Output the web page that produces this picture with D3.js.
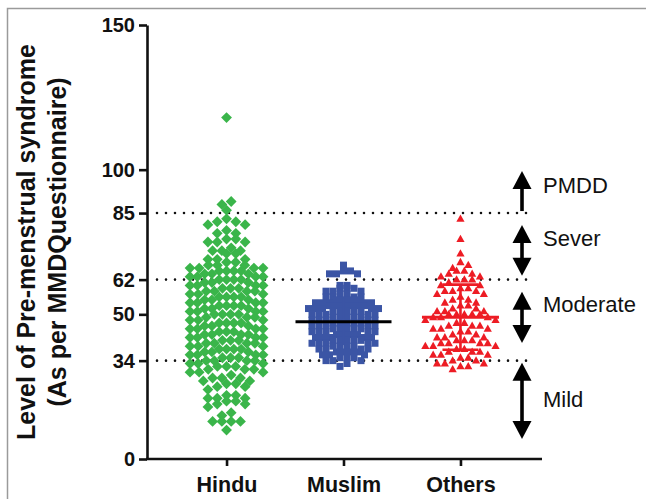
<!DOCTYPE html>
<html>
<head>
<meta charset="utf-8">
<script src="https://cdn.jsdelivr.net/npm/d3@7"></script>
<style>
  html, body { margin: 0; padding: 0; background: #fff; }
  svg { display: block; font-family: "Liberation Sans", Arial, Helvetica, sans-serif; }
</style>
</head>
<body>
<svg id="chart" width="646" height="499"></svg>
<script>
// ---- data -------------------------------------------------------------
const groups = ["Hindu", "Muslim", "Others"];

// MMDQ scores per respondent, by religion
const hinduScores = [
  118,
  89, 88,
  86,
  83, 82, 82, 81, 81,
  79, 78, 78,
  76, 76, 75, 75, 75,
  73, 72, 72, 72,
  71, 71, 69, 69, 69,
  68, 68, 67, 67, 67, 66, 66, 66, 66,
  65, 65, 65, 65, 64, 64, 64, 63, 63, 63, 63,
  62, 62, 62, 62, 61, 61, 61, 60, 60, 60, 60,
  59, 59, 59, 58, 58, 58, 58, 57, 57, 57,
  56, 56, 56, 56, 55, 55, 55, 54, 54, 54, 54,
  53, 53, 53, 53, 52, 52, 52, 51, 51, 51, 51,
  50, 50, 50, 50, 49, 49, 49, 48, 48, 48,
  47, 47, 47, 47, 46, 46, 46, 45, 45, 45, 45,
  44, 44, 44, 43, 43, 43, 43, 42, 42, 42, 42,
  41, 41, 41, 40, 40, 40, 40, 39, 39, 39,
  38, 38, 38, 38, 37, 37, 37, 36, 36, 36, 36,
  35, 35, 35, 34, 34, 34, 34, 33, 33, 33,
  32, 32, 32, 31, 31, 31, 30, 30, 30,
  29, 28, 28, 28, 27, 27,
  26, 26, 25, 25, 24,
  22, 22, 21, 21, 21,
  20, 20, 19, 19, 18,
  16, 15,
  13, 13, 13, 13,
  10
];

const muslimScores = [
  67,
  65, 65, 64, 64, 64,
  60, 60,
  59, 59, 59, 58, 58, 58,
  57, 57, 56, 56, 56, 56,
  55, 55, 55, 55, 54, 54, 54, 54, 54,
  53, 53, 53, 53, 53, 53, 52, 52, 52, 52, 52,
  51, 51, 51, 51, 51, 50, 50, 50, 50, 50,
  49, 49, 49, 49, 49, 48, 48, 48, 48, 48,
  47, 47, 47, 47, 47, 46, 46, 46, 46, 46,
  45, 45, 45, 45, 45, 44, 44, 44, 44, 44,
  43, 43, 43, 43, 42, 42, 42, 42, 42,
  41, 41, 41, 41, 41, 40, 40, 40, 40, 40,
  39, 39, 39, 39, 38, 38, 38, 38,
  37, 37, 37, 37, 36, 36, 36,
  35, 35, 35, 34, 34, 34,
  33, 32
];

const othersScores = [
  83,
  76,
  71,
  68, 67, 66,
  65, 65, 64, 64, 63, 63,
  62, 62, 62, 61, 60, 60,
  59, 59, 58, 58, 58, 57, 57,
  56, 55, 55, 54, 54,
  53, 53, 52, 52, 51, 51, 51,
  50, 50, 50, 50, 50, 49, 49, 49, 48, 48,
  47, 47, 46, 46, 46, 45, 45, 45,
  44, 44, 43, 43, 42, 42, 42,
  41, 41, 41, 40, 40, 40, 40, 39, 39, 39,
  38, 38, 37, 37, 37, 36, 36, 36,
  35, 35, 34, 34, 33, 33, 33,
  32, 32, 31
];

const yTicks = [0, 34, 50, 62, 85, 100, 150];
const cutoffs = [34, 62, 85];

// severity bands shown at the right: label, arrow extent (score units), arrow heads
const severityLabels = ["PMDD", "Sever", "Moderate", "Mild"];
const severitySpans = [[85.7, 99.5], [63.3, 80.9], [40.1, 57.8], [6.9, 33.3]];
const severityHeads = [["up"], ["up", "down"], ["up", "down"], ["up", "down"]];
const severityLabelAt = [193, 246, 312, 407];

// ---- setup -------------------------------------------------------------
const svg = d3.select("#chart");

const y = d3.scaleLinear().domain([0, 150]).range([459, 25]);
const x = d3.scalePoint().domain(groups).range([147, 540]).padding(0.68);

const styles = {
  Hindu:  { scores: hinduScores,  color: "#3ab54a", bin: 3, spacing: 9.3, maxWidth: 73, shape: "diamond",
            meanHalf: 0, sdCap: 0 },
  Muslim: { scores: muslimScores, color: "#3b55a5", bin: 2, spacing: 7.0, maxWidth: 999, shape: "square",
            meanHalf: 48, meanColor: "#000", sdCap: 0 },
  Others: { scores: othersScores, color: "#ed1c24", bin: 3, spacing: 7.8, maxWidth: 999, shape: "triangle",
            meanHalf: 38.5, meanColor: "#ed1c24", sdCap: 18 }
};

const shapes = {
  diamond:  "M0,-5.4L5.4,0L0,5.4L-5.4,0Z",
  square:   "M-3.5,-3.5H3.5V3.5H-3.5Z",
  triangle: "M0,-4.4L4.1,2.9L-4.1,2.9Z"
};

// points are grouped in value bins; inside a bin they sit side by side,
// highest value in the centre, then alternating right / left.
// Crowded bins are squeezed so the column keeps its width.
function spread(scores, binUnits, spacing, maxWidth) {
  const bins = d3.group(scores, v => Math.floor(v / binUnits));
  const out = [];
  for (const [, vals] of bins) {
    const arr = vals.slice().sort((a, b) => b - a);
    const n = arr.length;
    const step = n > 1 ? Math.min(spacing, maxWidth / (n - 1)) : spacing;
    arr.forEach((v, k) => {
      let slot;
      if (n % 2 === 1) slot = k === 0 ? 0 : (k % 2 === 1 ? 1 : -1) * Math.ceil(k / 2);
      else slot = (k % 2 === 0 ? 1 : -1) * (Math.floor(k / 2) + 0.5);
      out.push({ value: v, dx: slot * step });
    });
  }
  return out;
}

// ---- frame --------------------------------------------------------------
svg.append("path")
  .attr("d", "M7.5,499V8.5H646")
  .attr("fill", "none")
  .attr("stroke", "#9a9a9a")
  .attr("stroke-width", 1.5);

// ---- cut-off lines ------------------------------------------------------
svg.append("g").selectAll("line").data(cutoffs).join("line")
  .attr("x1", 157).attr("x2", 533)
  .attr("y1", d => y(d)).attr("y2", d => y(d))
  .attr("stroke", "#111")
  .attr("stroke-width", 2.6)
  .attr("stroke-linecap", "round")
  .attr("stroke-dasharray", "0 9");

// ---- points ---------------------------------------------------------------
groups.forEach(g => {
  const s = styles[g];
  const cx = x(g);
  const pts = spread(s.scores, s.bin, s.spacing, s.maxWidth);
  svg.append("g").selectAll("path").data(pts).join("path")
    .attr("d", shapes[s.shape])
    .attr("transform", d => `translate(${cx + d.dx},${y(d.value)})`)
    .attr("fill", s.color);

  const m = d3.mean(s.scores);
  const sd = d3.deviation(s.scores);

  if (g !== "Hindu") {
    // standard deviation whisker
    const eb = svg.append("g")
      .attr("stroke", s.color).attr("stroke-width", 2.6).attr("fill", "none");
    eb.append("line").attr("x1", cx).attr("x2", cx)
      .attr("y1", y(m + sd)).attr("y2", y(m - sd));
    if (s.sdCap > 0) {
      [m + sd, m - sd].forEach(v => eb.append("line")
        .attr("x1", cx - s.sdCap).attr("x2", cx + s.sdCap)
        .attr("y1", y(v)).attr("y2", y(v)));
    }
    // mean
    svg.append("line")
      .attr("x1", cx - s.meanHalf).attr("x2", cx + s.meanHalf)
      .attr("y1", y(m)).attr("y2", y(m))
      .attr("stroke", s.meanColor).attr("stroke-width", 3);
  }
});

// ---- axes ---------------------------------------------------------------
const yAxis = svg.append("g")
  .attr("transform", "translate(147,0)")
  .call(d3.axisLeft(y).tickValues(yTicks).tickSize(8).tickSizeOuter(0).tickPadding(4));
yAxis.select(".domain").attr("stroke-width", 2.6).attr("stroke", "#111");
yAxis.selectAll(".tick line").attr("stroke-width", 2.6).attr("stroke", "#111");
yAxis.selectAll(".tick text")
  .attr("font-size", 20).attr("font-weight", "bold").attr("fill", "#111")
  .attr("font-family", "'Liberation Sans', Arial, sans-serif");

const xAxis = svg.append("g")
  .attr("transform", "translate(0,459)")
  .call(d3.axisBottom(x).tickSize(7).tickSizeOuter(0));
xAxis.select(".domain").attr("d", "M146,0H542").attr("stroke-width", 2.6).attr("stroke", "#111");
xAxis.selectAll(".tick line").attr("stroke-width", 2.6).attr("stroke", "#111");
xAxis.selectAll(".tick text")
  .attr("y", 33).attr("dy", null)
  .attr("font-size", 21.5).attr("font-weight", "bold").attr("fill", "#111")
  .attr("font-family", "'Liberation Sans', Arial, sans-serif");

// ---- axis title -----------------------------------------------------------
const title = svg.append("g")
  .attr("font-size", 25).attr("font-weight", "bold").attr("fill", "#111")
  .attr("text-anchor", "middle");
title.append("text")
  .attr("transform", "translate(35,242) rotate(-90)")
  .text("Level of Pre-menstrual syndrome");
title.append("text")
  .attr("transform", "translate(66,242) rotate(-90)")
  .text("(As per MMDQuestionnaire)");

// ---- severity arrows ------------------------------------------------------
const ax = 522;
const ann = svg.append("g");
severitySpans.forEach((span, i) => {
  const top = y(span[1]), bot = y(span[0]);
  const heads = severityHeads[i];
  const hh = 18, hw = 9.5;
  const shaftTop = heads.includes("up") ? top + hh - 2 : top;
  const shaftBot = heads.includes("down") ? bot - hh + 2 : bot;
  ann.append("line")
    .attr("x1", ax).attr("x2", ax).attr("y1", shaftTop).attr("y2", shaftBot)
    .attr("stroke", "#000").attr("stroke-width", 3.6);
  if (heads.includes("up")) {
    ann.append("path")
      .attr("d", `M${ax},${top}L${ax + hw},${top + hh}L${ax - hw},${top + hh}Z`)
      .attr("fill", "#000");
  }
  if (heads.includes("down")) {
    ann.append("path")
      .attr("d", `M${ax},${bot}L${ax + hw},${bot - hh}L${ax - hw},${bot - hh}Z`)
      .attr("fill", "#000");
  }
  ann.append("text")
    .attr("x", 543).attr("y", severityLabelAt[i])
    .attr("font-size", 22).attr("fill", "#111")
    .text(severityLabels[i]);
});
</script>
</body>
</html>
